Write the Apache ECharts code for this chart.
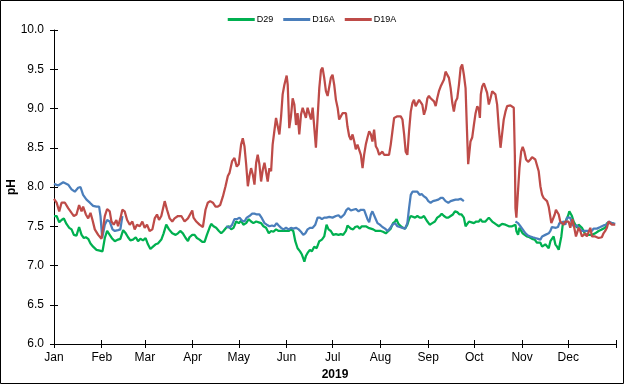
<!DOCTYPE html>
<html><head><meta charset="utf-8">
<script src="https://cdn.jsdelivr.net/npm/echarts@6/dist/echarts.min.js"></script>
<style>html,body{margin:0;padding:0;background:#fff}#c{width:624px;height:384px}</style>
</head><body><div id="c"></div>
<script>
// Day-of-year (0 = 1 Jan 2019) for month starts and their tick labels
const monthLabels = ['Jan','Feb','Mar','Apr','May','Jun','Jul','Aug','Sep','Oct','Nov','Dec'];
const monthStartDays = [0,31,59,90,120,151,181,212,243,273,304,334];
const yearEndDay = 365;
const seriesNames = ['D29','D16A','D19A'];

// D29 : [day of year, pH]
const d29 = [[0,7.63],[1.7,7.63],[3.4,7.55],[4.9,7.58],[6.4,7.60],[8.1,7.53],[9.9,7.48],[11.4,7.46],[12.9,7.39],[14.6,7.38],[16.3,7.49],[17.9,7.39],[19.4,7.35],[20.7,7.36],[22.2,7.34],[23.7,7.28],[25.4,7.24],[27.6,7.20],[29.7,7.19],[31.5,7.18],[33,7.35],[34.5,7.44],[36.2,7.39],[37.9,7.34],[39.5,7.31],[41.6,7.33],[43.1,7.34],[44.9,7.45],[46.6,7.41],[48.1,7.36],[49.6,7.32],[51.3,7.33],[53.1,7.36],[54.6,7.31],[56.1,7.34],[57.8,7.32],[59.5,7.35],[61,7.27],[62.6,7.21],[64.3,7.24],[66,7.27],[67.5,7.28],[69.7,7.33],[71.2,7.41],[72.9,7.52],[74.7,7.46],[76.8,7.41],[79,7.39],[80.5,7.41],[82,7.44],[83.7,7.41],[85.5,7.35],[87,7.31],
[88,7.36],[89.8,7.39],[91.3,7.39],[92.8,7.35],[94.5,7.33],[96.3,7.30],[97.8,7.30],[99.3,7.39],[101,7.48],[102.1,7.53],[103.6,7.50],[105.3,7.48],[107.1,7.44],[108.6,7.41],[110.1,7.44],[111.8,7.48],[113.5,7.50],[115.1,7.46],[116.6,7.48],[118.3,7.56],[120,7.54],[121.5,7.57],[123,7.52],[124.8,7.54],[126.5,7.59],[128,7.56],[129.5,7.54],[131.3,7.56],[133,7.55],[134.5,7.54],[136,7.50],[137.7,7.48],[139.5,7.41],[141,7.44],[142.5,7.43],[144.2,7.46],[145.9,7.44],[147.5,7.44],[149,7.44],[150.7,7.44],[152.4,7.44],[153.9,7.46],[155.4,7.44],[156.7,7.31],[158.2,7.22],[159.8,7.18],[161,7.14],[161.9,7.09],[162.6,7.05],[163.6,7.12],[164.7,7.16],[166.2,7.20],[167.5,7.18],[169,7.24],[170.6,7.22],[172.3,7.31],[174,7.33],[175.5,7.37],[177,7.52],[178.3,7.46],
[179.8,7.44],[181.3,7.39],[183.1,7.40],[184.8,7.39],[186.3,7.40],[187.8,7.39],[189.6,7.44],[190.6,7.51],[191.7,7.50],[192.8,7.47],[194.3,7.46],[195.6,7.49],[197.1,7.50],[198.6,7.47],[199.9,7.50],[200.8,7.51],[202.5,7.50],[204.2,7.48],[205.8,7.47],[207.3,7.46],[209,7.44],[210.7,7.44],[212.2,7.44],[213.7,7.43],[215.5,7.41],[217.2,7.44],[218.7,7.47],[220.2,7.54],[221.5,7.56],[222.4,7.59],[223.7,7.53],[225.2,7.50],[226.7,7.48],[228,7.47],[229.5,7.52],[230.6,7.59],[231.7,7.63],[232.8,7.65],[234.5,7.61],[236,7.63],[237.5,7.61],[238.8,7.61],[240.3,7.63],[241.4,7.63],[242.5,7.56],[244,7.52],[245.7,7.54],[247.4,7.56],[248.9,7.61],[250.5,7.63],[251.8,7.66],[253.3,7.63],[254.8,7.61],[256.1,7.61],[257.6,7.63],[259.1,7.65],[260.4,7.69],[261.9,7.68],[263.4,7.65],[264.7,7.65],[266.2,7.61],[267.3,7.50],[268.4,7.49],
[269.5,7.56],[271.2,7.55],[272.7,7.54],[274.2,7.56],[275.9,7.56],[277,7.59],[278.1,7.56],[279.2,7.54],[280.2,7.56],[281.3,7.57],[282.4,7.61],[283.5,7.61],[284.6,7.56],[285.6,7.54],[286.7,7.53],[287.8,7.52],[288.9,7.50],[290,7.52],[291,7.53],[292.1,7.54],[293.2,7.52],[294.3,7.50],[295.4,7.50],[296.4,7.49],[297.5,7.50],[298.6,7.48],[299.7,7.52],[300.3,7.44],[301.4,7.39],[302.3,7.48],[303.4,7.46],[304.4,7.41],[305.7,7.39],[307.2,7.37],[308.8,7.36],[310.5,7.34],[312.2,7.33],[313.7,7.29],[314.8,7.31],[315.9,7.29],[317,7.24],[318,7.23],[319.1,7.27],[320.2,7.29],[321.3,7.22],[322.4,7.31],[323.4,7.31],[324.5,7.37],[325.6,7.27],[326.7,7.24],[327.8,7.20],[328.6,7.18],[329.5,7.37],[330.4,7.52],[331.7,7.54],[332.7,7.56],[333.8,7.63],[334.7,7.69],[335.5,7.68],[336.4,7.63],[337.5,7.56],[338.6,7.52],[339.6,7.48],[340.7,7.52],[341.8,7.50],[342.9,7.48],[344,7.44],[345.1,7.39],[346.1,7.41],[347.2,7.39],[348.3,7.41],[349.4,7.39],[350.4,7.39],[351.5,7.41],[352.6,7.41],[353.7,7.44],[354.8,7.44],[355.8,7.46],[356.9,7.47],[358,7.48],[359.1,7.54],[360.2,7.56],[361.2,7.54],[362.3,7.54],[363.4,7.54]];

// D16A : [day of year, pH]  ('-' = no data, line gap)
const d16a = [[0,8.04],[2.7,8.02],[3.8,8.01],[6,8.06],[7.1,8.06],[9.2,8.03],[11.4,7.97],[13.5,7.94],[15.7,7.99],[17.2,8.0],[18.9,7.90],[21.1,7.84],[23.3,7.80],[25.4,7.76],[27.6,7.75],[29.3,7.75],[30.2,7.63],[31.3,7.35],[33,7.52],[34.5,7.58],[36.2,7.56],[38,7.46],[39.5,7.44],[41.6,7.45],[43.1,7.46],[44.4,7.63],[45,'-'],
[111.8,7.50],[114,7.48],[115.7,7.52],[117.2,7.59],[118.7,7.59],[120.5,7.61],[122.2,7.57],[123.7,7.56],[125.2,7.61],[126.9,7.63],[128.7,7.66],[130.2,7.66],[131.7,7.65],[133.4,7.65],[135.1,7.60],[136.7,7.54],[138.2,7.52],[139.9,7.50],[141.6,7.51],[143.1,7.50],[144.6,7.54],[145.9,7.51],[147.5,7.48],[149,7.46],[150.7,7.48],[152.4,7.46],[153.9,7.48],[155.4,7.47],[157.2,7.48],[158.9,7.46],[160.4,7.43],[161.9,7.39],[163.2,7.41],[164.7,7.46],[166.2,7.48],[168,7.48],[169.7,7.52],[171.2,7.61],[172.7,7.61],[174,7.59],[175.5,7.61],[177,7.61],
[178.8,7.62],[180.9,7.61],[183.1,7.63],[184.8,7.64],[186.3,7.61],[188.5,7.65],[190,7.71],[191.3,7.73],[192.8,7.70],[194.3,7.71],[196,7.72],[197.8,7.69],[199.3,7.71],[200.4,7.73],[201.4,7.71],[202.5,7.69],[203.6,7.59],[204.7,7.55],[205.8,7.65],[206.8,7.69],[207.9,7.67],[209,7.59],[210.1,7.54],[211.6,7.52],[213.3,7.49],[215,7.47],[216.6,7.44],[218.1,7.47],[219.8,7.52],[221.5,7.54],[223,7.50],[224.5,7.49],[226.3,7.48],[228,7.47],[229.5,7.54],[230.6,7.73],[231.7,7.90],[232.8,7.94],[234.5,7.94],[236,7.94],[237.5,7.90],[238.8,7.91],[240.3,7.88],[241.8,7.86],[243.1,7.82],[244.6,7.80],[246.1,7.82],[247.9,7.83],[249.6,7.84],[251.1,7.86],[252.6,7.86],[254.3,7.82],[256.1,7.80],[257.6,7.82],[259.1,7.83],[260.8,7.84],[262.5,7.84],[264.1,7.85],[265.1,7.85],[266.2,7.82],[267,'-'],
[299.7,7.56],[301.4,7.54],[302.9,7.50],[304.4,7.46],[306.2,7.41],[307.9,7.38],[309.4,7.37],[310.9,7.36],[312.6,7.35],[314.4,7.34],[315.9,7.33],[317,7.37],[318,7.39],[319.1,7.39],[320.2,7.37],[321.3,7.41],[322.4,7.44],[323.4,7.49],[324.5,7.50],[326,7.48],[327.3,7.49],[328.2,7.54],[329.5,7.54],[331,7.56],[332.1,7.52],[333.2,7.61],[334.2,7.63],[335.3,7.61],[336.4,7.54],[337.5,7.50],[338.6,7.52],[339.6,7.51],[340.7,7.48],[341.8,7.46],[342.9,7.44],[344,7.46],[345.1,7.44],[346.1,7.46],[347.2,7.44],[348.3,7.46],[349.4,7.44],[350.4,7.47],[351.5,7.48],[352.6,7.47],[353.7,7.48],[354.8,7.49],[355.8,7.48],[356.9,7.51],[358,7.50],[359.1,7.52],[360.2,7.56],[361.2,7.54],[362.3,7.54],[363.4,7.54],[364.5,7.53]];

// D19A : [day of year, pH]
const d19a = [[0,7.85],[1.7,7.80],[3.4,7.69],[4.9,7.80],[7.1,7.80],[9.2,7.73],[11.4,7.67],[12.9,7.63],[14.6,7.65],[16.3,7.77],[17.9,7.69],[18.9,7.75],[20.7,7.65],[22.2,7.60],[23.7,7.67],[25,7.58],[26.5,7.46],[28.7,7.39],[30.8,7.34],[31.9,7.35],[33,7.63],[34.5,7.72],[36.2,7.69],[37.3,7.56],[38.8,7.52],[40.5,7.58],[41.6,7.50],[43.1,7.60],[44.4,7.71],[45.9,7.69],[47.5,7.58],[49.2,7.52],[50.9,7.56],[52.4,7.46],[53.9,7.52],[55.7,7.50],[57.4,7.56],[58.9,7.48],[60.4,7.52],[62.1,7.44],[63.9,7.46],[65.4,7.60],[66.9,7.65],[68.2,7.58],[69.7,7.63],[71.9,7.82],[73.4,7.71],[75.1,7.60],[76.8,7.56],[78.3,7.60],[80.5,7.63],[82.7,7.63],[84.8,7.56],[87,7.60],
[88,7.61],[89.8,7.70],[90.6,7.61],[92.4,7.56],[94.5,7.52],[96.7,7.49],[98.4,7.71],[99.9,7.80],[101.4,7.82],[103.2,7.80],[104.9,7.75],[106.4,7.75],[107.9,7.77],[109.7,7.88],[111.4,8.01],[112.9,8.14],[114,8.18],[115.7,8.33],[117.2,8.37],[118.7,8.26],[120,8.29],[121.5,8.54],[122.6,8.62],[123.7,8.52],[124.8,8.29],[125.9,8.01],[126.9,8.14],[128,8.24],[129.1,8.16],[130.2,8.03],[131.3,8.31],[132.3,8.41],[133.4,8.29],[134.5,8.07],[135.6,8.22],[136.7,8.31],[137.7,8.31],[138.8,8.07],[139.9,8.24],[141,8.20],[142,8.54],[143.1,8.71],[144.2,8.88],[145.3,8.90],[146.4,8.67],[147.5,8.90],[148.5,9.18],[149.6,9.30],[151.1,9.42],[151.8,9.30],[152.8,8.75],[153.9,8.90],[155,9.13],[156.1,9.05],[157.2,8.79],[158.2,8.94],[159.3,8.67],[160.4,8.92],[161.5,9.01],[162.6,9.03],[163.6,8.88],[164.7,9.01],[165.8,9.03],[166.9,8.86],[168,9.01],[169,9.03],[170.1,8.50],[171.2,8.88],[172.3,9.26],[173.4,9.49],[174.4,9.52],[175.5,9.39],[176.6,9.22],[177.7,9.16],[178.8,9.16],
[179.8,9.39],[180.9,9.43],[182,9.30],[183.1,9.11],[184.2,9.01],[185.2,8.86],[186.3,8.90],[187.4,8.94],[188.5,8.96],[189.6,8.94],[190.6,8.77],[191.7,8.65],[192.8,8.60],[193.9,8.67],[195,8.58],[196,8.48],[197.1,8.54],[198.2,8.56],[199.3,8.41],[200.4,8.24],[201.4,8.41],[202.5,8.54],[203.6,8.63],[204.7,8.71],[205.8,8.67],[206.8,8.58],[207.9,8.73],[209,8.52],[210.1,8.48],[211.2,8.41],[212.2,8.39],[213.3,8.45],[214.4,8.41],[217.6,8.41],[218.7,8.54],[219.8,8.71],[220.9,8.88],[222,8.90],[223,8.90],[224.1,8.92],[225.2,8.90],[226.3,8.86],[227.4,8.67],[228.4,8.45],[229.5,8.41],[230.6,8.71],[231.7,8.96],[232.8,9.07],[233.8,9.11],[234.9,9.03],[236,9.01],[237.1,9.11],[238.2,9.13],[239.2,9.05],[240.3,8.92],[241.4,8.99],[242.5,9.13],[243.5,9.16],[244.6,9.13],[245.7,9.11],[246.8,9.09],[247.9,9.03],[248.9,9.13],[250,9.22],[251.1,9.28],[252.2,9.29],[253.3,9.37],[254.3,9.47],[255.4,9.49],[256.5,9.39],[257.6,9.26],[258.7,9.07],[259.7,8.96],[260.8,9.09],[261.9,9.13],[263,9.30],[264.1,9.52],[265.1,9.56],[266.2,9.43],[267.3,9.26],[268,8.84],[269,8.29],
[270.5,8.58],[271.6,8.63],[272.7,8.79],[273.8,8.94],[274.9,9.03],[275.9,8.99],[276.6,8.88],[277.2,9.18],[278.1,9.28],[279.2,9.32],[280.2,9.30],[281.3,9.20],[282.4,9.05],[283.5,9.13],[284.6,9.22],[285.6,9.24],[286.7,9.18],[287.8,9.05],[288.9,8.75],[290,8.50],[291,8.67],[292.1,8.86],[293.2,8.96],[294.3,9.03],[295.4,9.05],[296.4,9.04],[297.5,9.03],[298.6,9.01],[299.3,8.41],[299.7,7.73],[300.3,7.61],[301.2,7.90],[302.3,8.24],[303.4,8.45],[304.4,8.51],[305.5,8.45],[306.6,8.35],[307.9,8.32],[309.4,8.35],[310.5,8.38],[311.6,8.37],[312.6,8.35],[313.7,8.33],[314.8,8.20],[315.9,8.01],[317,7.90],[318,7.86],[319.1,7.84],[320.2,7.82],[321.3,7.75],[322.4,7.73],[323,7.54],[323.9,7.52],[325.2,7.65],[326,7.71],[326.9,7.73],[327.8,7.65],[328.8,7.56],[329.9,7.54],[331,7.52],[332.1,7.56],[333.2,7.54],[334.2,7.56],[335.3,7.48],[336,7.54],[336.8,7.59],[337.9,7.48],[339,7.37],[339.9,7.37],[340.7,7.48],[341.8,7.44],[342.9,7.37],[344,7.37],[345.1,7.41],[346.1,7.37],[347.2,7.35],[348.3,7.48],[349.4,7.37],[350.4,7.39],[351.5,7.37],[352.6,7.39],[353.7,7.35],[354.8,7.33],[355.8,7.36],[356.9,7.41],[358,7.44],[359.1,7.48],[360.2,7.56],[361.2,7.54],[362.3,7.52],[363.4,7.54],[364.5,7.52]];

const colors = ['#00B050','#4A7EBB','#BE4B48'];
const FONT = "'Liberation Sans', Arial, sans-serif";
const tickDays = monthStartDays.concat([yearEndDay]);

const chart = echarts.init(document.getElementById('c'), null, {renderer:'canvas'});
const lineSeries = (name, data, color) => ({
  name, type:'line', data, xAxisIndex:0, yAxisIndex:0,
  showSymbol:false, symbol:'none', connectNulls:false, smooth:false,
  lineStyle:{color, width:2.25}, itemStyle:{color}, animation:false
});
chart.setOption({
  animation:false,
  textStyle:{fontFamily:FONT},
  graphic:[{type:'rect', shape:{x:0.5,y:0.5,width:623,height:383}, style:{fill:null, stroke:'#000', lineWidth:1}, silent:true}],
  legend:{
    data:seriesNames, top:10, left:'center', icon:'rect', itemWidth:27, itemHeight:3, itemGap:10,
    textStyle:{fontSize:9, color:'#000', fontFamily:FONT, padding:[0,0,0,-3]}
  },
  grid:{left:54, right:8, top:30, bottom:40, containLabel:false, outerBoundsMode:'none'},
  xAxis:[{
    type:'value', min:0, max:yearEndDay, position:'bottom',
    name:'2019', nameLocation:'middle', nameGap:25, nameMoveOverlap:false,
    nameTextStyle:{fontSize:12, fontWeight:'bold', color:'#000', fontFamily:FONT},
    axisLine:{lineStyle:{color:'#000', width:1}},
    axisTick:{show:true, length:4, inside:false, customValues:tickDays, lineStyle:{color:'#000'}},
    axisLabel:{customValues:monthStartDays, fontSize:12, color:'#000', margin:8, fontFamily:FONT,
      formatter:v => monthLabels[monthStartDays.indexOf(Math.round(v))] || ''},
    splitLine:{show:false}
  },{
    type:'value', min:0, max:yearEndDay, position:'bottom', offset:0,
    axisLine:{show:false},
    axisTick:{show:true, length:4, inside:true, customValues:tickDays, lineStyle:{color:'#000'}},
    axisLabel:{show:false}, splitLine:{show:false}
  }],
  yAxis:[{
    type:'value', min:6, max:10, interval:0.5, position:'left',
    name:'pH', nameLocation:'middle', nameGap:36, nameMoveOverlap:false,
    nameTextStyle:{fontSize:12, fontWeight:'bold', color:'#000', fontFamily:FONT},
    axisLine:{show:true, lineStyle:{color:'#000', width:1}},
    axisTick:{show:true, length:4, inside:false, lineStyle:{color:'#000'}},
    axisLabel:{fontSize:12, color:'#000', margin:10, fontFamily:FONT, formatter:v => v.toFixed(1)},
    splitLine:{show:false}
  },{
    type:'value', min:6, max:10, interval:0.5, position:'left', offset:0,
    axisLine:{show:false},
    axisTick:{show:true, length:4, inside:true, lineStyle:{color:'#000'}},
    axisLabel:{show:false}, splitLine:{show:false}
  }],
  series:[
    lineSeries(seriesNames[0], d29, colors[0]),
    lineSeries(seriesNames[1], d16a, colors[1]),
    lineSeries(seriesNames[2], d19a, colors[2])
  ]
});
</script></body></html>
